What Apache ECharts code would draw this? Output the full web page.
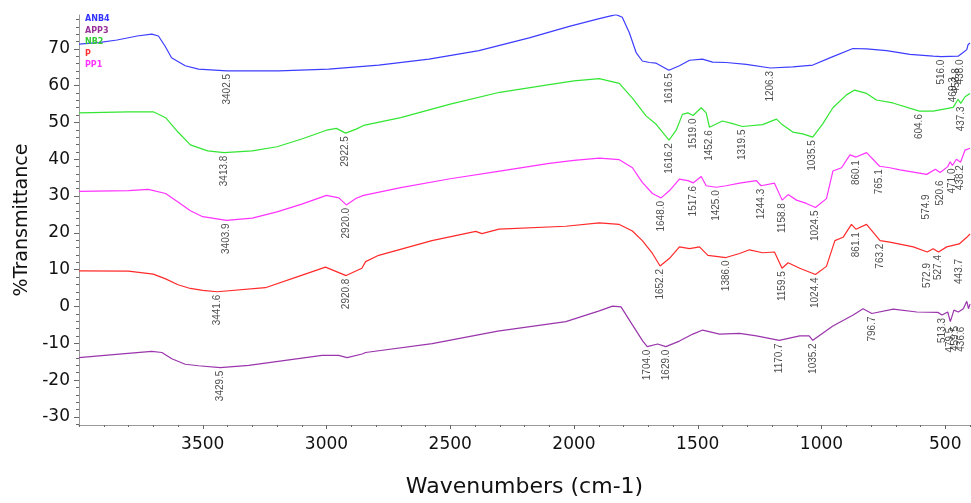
<!DOCTYPE html>
<html><head><meta charset="utf-8">
<script src="https://cdn.jsdelivr.net/npm/echarts@6/dist/echarts.min.js"></script>
<style>html,body{margin:0;padding:0;background:#fff}#c{width:971px;height:503px}</style>
</head><body><div id="c"></div>
<script>
const seriesNames = ['ANB4', 'APP3', 'NB2', 'P', 'PP1'];
const lineColors = ['#3d3dff', '#9a35ac', '#33e633', '#ff2a2a', '#ff33ff'];
const legendColors = ['#3333ff', '#993399', '#33cc33', '#ff3333', '#ff33ff'];
const xTickLabels = [3500, 3000, 2500, 2000, 1500, 1000, 500];
const yTickLabels = [-30, -20, -10, 0, 10, 20, 30, 40, 50, 60, 70];

const ANB4 = [[4000,71.3],[3922,71.7],[3846,72.4],[3765,73.5],[3706,74.0],[3679,73.5],[3652,70.7],[3626,67.6],[3571,65.4],[3517,64.5],[3402.5,64.0],[3193,64.0],[2991,64.5],[2789,65.6],[2586,67.2],[2384,69.5],[2181,73.0],[2019,76.1],[1898,78.2],[1830,79.3],[1805,78.6],[1776,74.3],[1749,69.0],[1724,66.7],[1695,66.3],[1668,66.1],[1616.5,64.2],[1574,65.4],[1533,66.9],[1481,67.2],[1440,66.4],[1385,66.3],[1304,65.8],[1206.3,64.8],[1116,65.1],[1035,65.6],[954,67.9],[873,70.1],[818,70.0],[737,69.5],[643,68.5],[549,68.0],[516,67.9],[448,68.0],[428,69.0],[413,69.8],[408,71.1],[400,71.6]];
const APP3 = [[4000,-13.9],[3850,-13.0],[3706,-12.2],[3665,-12.5],[3625,-14.2],[3571,-15.7],[3517,-16.1],[3429.5,-16.6],[3314,-16.0],[3018,-13.3],[2951,-13.3],[2917,-13.9],[2856,-12.9],[2842,-12.5],[2573,-10.1],[2308,-6.7],[2033,-4.1],[1898,-1.2],[1844,0.1],[1810,-0.1],[1764,-5.0],[1722,-9.4],[1704.0,-10.9],[1662,-10.2],[1629.0,-10.9],[1574,-9.4],[1520,-7.5],[1480,-6.4],[1412,-7.5],[1331,-7.3],[1263,-8.0],[1170.7,-9.2],[1088,-8.0],[1050,-8.0],[1035.2,-9.2],[954,-5.3],[872,-2.3],[832,-0.6],[796.7,-1.9],[710,-0.7],[615,-1.5],[530,-1.6],[513.3,-2.3],[490,-1.5],[479.5,-4.1],[465,-1.0],[447,-1.5],[427,-0.6],[413,1.4],[406,-0.6],[400,0.7]];
const NB2 = [[4000,52.6],[3800,52.9],[3700,52.9],[3650,51.3],[3600,47.4],[3550,43.9],[3480,42.3],[3413.8,41.8],[3300,42.3],[3200,43.4],[3100,45.5],[3000,47.9],[2960,48.4],[2922.5,47.1],[2880,48.2],[2850,49.2],[2700,51.3],[2500,55.0],[2300,58.2],[2100,60.3],[2000,61.3],[1898,61.9],[1817,60.6],[1764,56.6],[1709,51.8],[1668,49.5],[1616.2,45.2],[1587,47.9],[1562,52.2],[1540,52.6],[1519.0,51.9],[1486,54.0],[1466,52.6],[1452.6,48.7],[1400,50.4],[1359,49.7],[1319.5,48.9],[1238,49.4],[1182,50.9],[1162,49.6],[1116,47.4],[1076,46.9],[1035.5,46.0],[995,49.6],[954,54.0],[899,57.5],[866,58.8],[818,57.9],[778,56.1],[712,55.3],[604.6,53.1],[549,53.1],[468,54.1],[448,56.3],[437.3,55.2],[420,57.0],[400,57.9]];
const P = [[4000,9.7],[3800,9.6],[3700,8.8],[3650,7.5],[3600,5.9],[3550,4.9],[3500,4.4],[3441.6,4.0],[3247,5.1],[3113,8.2],[3004,10.7],[2920.8,8.4],[2857,10.4],[2842,12.2],[2789,13.9],[2574,17.9],[2397,20.4],[2372,19.8],[2303,21.0],[2033,21.8],[1898,22.7],[1817,22.3],[1764,20.5],[1724,17.9],[1683,14.4],[1652.2,11.0],[1614,13.1],[1574,16.2],[1533,15.7],[1493,16.2],[1459,13.9],[1386.0,13.3],[1331,14.4],[1291,15.4],[1238,14.6],[1190,14.8],[1159.5,10.4],[1135,11.9],[1088,10.4],[1024.4,8.7],[980,10.9],[946,17.9],[913,18.8],[879,22.3],[861.1,21.0],[818,22.3],[763.2,17.9],[724,17.5],[629,16.2],[572.9,14.8],[549,15.7],[527.4,14.8],[494,16.2],[443.7,17.0],[440,17.5],[413,18.8],[400,19.7]];
const PP1 = [[4000,31.3],[3800,31.5],[3720,31.8],[3650,30.7],[3600,28.4],[3550,26.0],[3500,24.4],[3403.9,23.4],[3300,24.0],[3200,25.7],[3100,27.8],[3000,30.2],[2950,29.5],[2920.0,27.6],[2880,29.4],[2850,30.2],[2700,32.3],[2500,34.7],[2300,36.8],[2100,38.9],[2000,39.7],[1898,40.3],[1817,39.9],[1764,37.7],[1724,33.7],[1683,30.7],[1648.0,29.5],[1614,31.5],[1574,34.6],[1540,34.2],[1517.6,33.6],[1486,35.3],[1466,32.8],[1425.0,32.4],[1385,32.8],[1331,33.5],[1263,34.2],[1244.3,32.8],[1190,33.5],[1158.8,28.9],[1135,30.4],[1101,28.9],[1061,28.0],[1024.5,26.9],[980,29.3],[954,36.8],[919,37.7],[885,41.2],[860.1,40.6],[818,41.8],[765.1,38.1],[724,37.7],[683,37.1],[574.9,35.9],[540,37.3],[520.6,36.4],[490,38.0],[480,39.3],[471.0,38.3],[455,40.0],[438.2,39.2],[420,42.5],[400,43.0]];

// peak annotations: [wavenumber, %T, gap between point and label]
const ANB4_peaks = [[3402.5,64.0,3],[1616.5,64.2,3],[1206.3,64.8,3],[516.0,67.9,3],[469.3,68.0,21],[453.8,68.0,12],[438.0,68.5,5]];
const APP3_peaks = [[3429.5,-16.6,3],[1704.0,-10.9,3],[1629.0,-10.9,3],[1170.7,-9.2,3],[1035.2,-9.2,3],[796.7,-1.9,3],[513.3,-2.3,3],[479.5,-4.1,6],[459.5,-1.5,14],[436.6,-0.6,18]];
const NB2_peaks = [[3413.8,41.8,3],[2922.5,47.1,3],[1616.2,45.2,3],[1519.0,51.9,3],[1452.6,48.7,3],[1319.5,48.9,3],[1035.5,46.0,3],[604.6,53.1,3],[437.3,55.2,3]];
const P_peaks = [[3441.6,4.0,3],[2920.8,8.4,3],[1652.2,11.0,3],[1386.0,13.3,3],[1159.5,10.4,3],[1024.4,8.7,3],[861.1,21.0,3],[763.2,17.9,3],[572.9,14.8,11],[527.4,14.8,3],[443.7,17.0,15]];
const PP1_peaks = [[3403.9,23.4,3],[2920.0,27.6,3],[1648.0,29.5,3],[1517.6,33.6,3],[1425.0,32.4,3],[1244.3,32.8,3],[1158.8,28.9,3],[1024.5,26.9,3],[860.1,40.6,3],[765.1,38.1,3],[574.9,35.9,20],[520.6,36.4,8],[471.0,38.3,3],[438.2,39.2,3]];

const curves = [ANB4, APP3, NB2, P, PP1];
const peaks = [ANB4_peaks, APP3_peaks, NB2_peaks, P_peaks, PP1_peaks];

const xMinor = []; for (let v = 400; v <= 4000; v += 100) xMinor.push(v);
const yMinor = []; for (let v = -32; v <= 78; v += 2) yMinor.push(v);

const axisGrey = '#9a9a9a';
const tickFont = 'DejaVu Sans';

const series = [];
curves.forEach((d, i) => {
  series.push({
    name: seriesNames[i], type: 'line', data: d, showSymbol: false, symbol: 'none',
    lineStyle: { color: lineColors[i], width: 1.2 }, itemStyle: { color: lineColors[i] },
    z: 3, silent: true
  });
});
peaks.forEach((pk, i) => {
  series.push({
    name: seriesNames[i] + ' peaks', type: 'scatter', symbolSize: 0, z: 4, silent: true,
    data: pk.map(p => ({ name: p[0].toFixed(1), value: [p[0], p[1]], label: { distance: p[2] } })),
    label: {
      show: true, position: 'bottom', rotate: 90, align: 'right', verticalAlign: 'middle',
      formatter: '{b}', fontSize: 10, color: '#222',
      fontFamily: "'Liberation Sans Narrow', 'Arial Narrow', 'Liberation Sans', sans-serif"
    }
  });
});

const chart = echarts.init(document.getElementById('c'), null, { renderer: 'canvas' });
chart.setOption({
  animation: false,
  backgroundColor: '#fff',
  grid: { left: 79, right: 1, top: 15, bottom: 66, containLabel: false },
  legend: {
    orient: 'vertical', left: 78, top: 15, padding: 0, itemGap: 3.5,
    icon: 'none', itemWidth: 2, itemHeight: 8, selectedMode: false,
    textStyle: { fontSize: 8, fontWeight: 'bold', lineHeight: 8, fontFamily: 'DejaVu Sans', padding: 0 },
    data: seriesNames.map((n, i) => ({ name: n, textStyle: { color: legendColors[i] } }))
  },
  xAxis: [
    {
      type: 'value', min: 400, max: 4000, inverse: true, position: 'bottom',
      axisLine: { show: true, onZero: false, lineStyle: { color: axisGrey, width: 1 } },
      axisTick: { show: true, customValues: xTickLabels, length: 4, lineStyle: { color: '#666' } },
      axisLabel: { customValues: xTickLabels, margin: 11, fontSize: 17, fontFamily: tickFont, color: '#111', formatter: v => String(v) },
      splitLine: { show: false },
      name: 'Wavenumbers (cm-1)', nameLocation: 'middle', nameGap: 51,
      nameTextStyle: { fontSize: 22, color: '#111', fontFamily: tickFont }
    },
    {
      type: 'value', min: 400, max: 4000, inverse: true, position: 'bottom',
      axisLine: { show: false, onZero: false },
      axisTick: { show: true, customValues: xMinor, length: 2, lineStyle: { color: '#666' } },
      axisLabel: { show: false }, splitLine: { show: false }
    }
  ],
  yAxis: [
    {
      type: 'value', min: -32.2, max: 79.2, position: 'left',
      axisLine: { show: true, onZero: false, lineStyle: { color: axisGrey, width: 1 } },
      axisTick: { show: true, customValues: yTickLabels, length: 5, lineStyle: { color: '#666' } },
      axisLabel: { customValues: yTickLabels, margin: 9, fontSize: 17, fontFamily: tickFont, color: '#111', formatter: v => String(v) },
      splitLine: { show: false },
      name: '%Transmittance', nameLocation: 'middle', nameGap: 46,
      nameTextStyle: { fontSize: 19, color: '#111', fontFamily: tickFont }
    },
    {
      type: 'value', min: -32.2, max: 79.2, position: 'left',
      axisLine: { show: false, onZero: false },
      axisTick: { show: true, customValues: yMinor, length: 3, lineStyle: { color: '#666' } },
      axisLabel: { show: false }, splitLine: { show: false }
    }
  ],
  series: series
});
</script></body></html>
